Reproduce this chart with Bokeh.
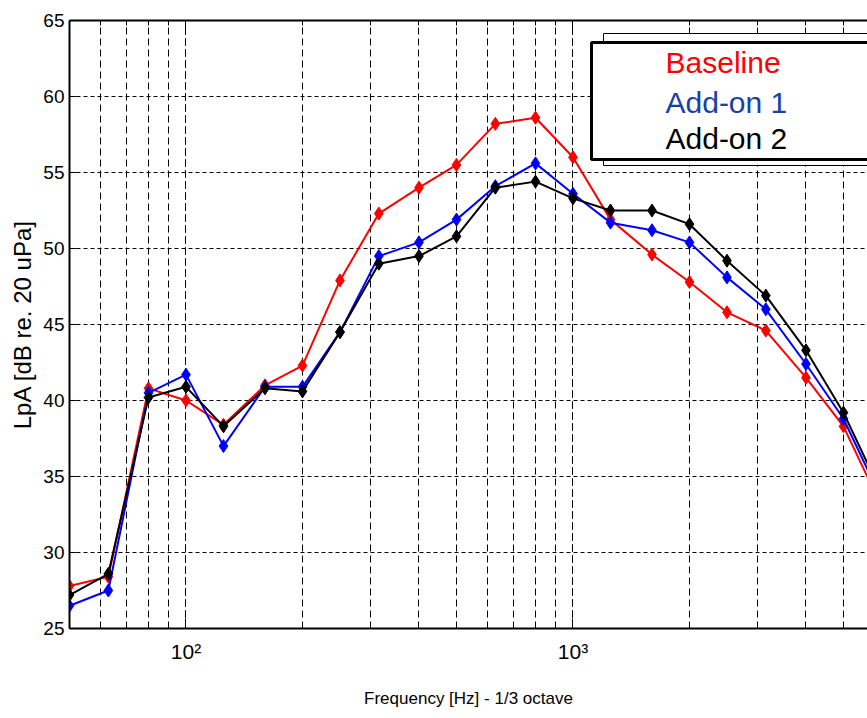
from bokeh.plotting import figure
from bokeh.models import LogAxis, BoxAnnotation, Label, FixedTicker, Range1d, LogTicker
from bokeh.embed import file_html
from bokeh.resources import INLINE

# 1/3-octave band centre frequencies [Hz]
freqs = [50, 63, 80, 100, 125, 160, 200, 250, 315, 400, 500, 630, 800,
         1000, 1250, 1600, 2000, 2500, 3150, 4000, 5000, 6300]

# LpA [dB re. 20 uPa]
baseline = [27.8, 28.4, 40.8, 40.0, 38.4, 41.0, 42.3, 47.9, 52.3, 54.0, 55.5,
            58.2, 58.6, 56.0, 51.9, 49.6, 47.8, 45.8, 44.6, 41.5, 38.3, 32.9]
addon1 = [26.5, 27.5, 40.5, 41.7, 37.0, 40.9, 40.9, 44.5, 49.5, 50.4, 51.9,
          54.1, 55.6, 53.6, 51.7, 51.2, 50.4, 48.1, 46.0, 42.4, 38.8, 33.4]
addon2 = [27.2, 28.6, 40.2, 40.9, 38.3, 40.8, 40.6, 44.5, 49.0, 49.5, 50.8,
          54.0, 54.4, 53.3, 52.5, 52.5, 51.6, 49.2, 46.9, 43.3, 39.2, 33.8]

series_names = ["Baseline", "Add-on 1", "Add-on 2"]
series_values = [baseline, addon1, addon2]
line_colors = ["#FF0000", "#0000FF", "#000000"]
text_colors = ["#FF0000", "#1840A8", "#000000"]

y_ticks = [25, 30, 35, 40, 45, 50, 55, 60, 65]
x_tick_labels = {100: "10\u00b2", 1000: "10\u00b3"}

FONT = "Liberation Sans"

p = figure(width=867, height=718, x_axis_type="log",
           x_range=Range1d(50, 5768), y_range=Range1d(25, 65),
           output_backend="svg", toolbar_location=None,
           min_border_left=69, min_border_right=0,
           min_border_top=20, min_border_bottom=90)
p.outline_line_color = None
p.background_fill_color = "white"

# grids
p.xgrid.grid_line_color = "black"
p.xgrid.grid_line_dash = "7 4"
p.xgrid.grid_line_width = 1
p.xgrid.minor_grid_line_color = "black"
p.xgrid.minor_grid_line_dash = "7 4"
p.xgrid.minor_grid_line_width = 1
p.ygrid.grid_line_color = "black"
p.ygrid.grid_line_dash = "4 3"
p.ygrid.grid_line_width = 1

# x axis (bottom)
xa = p.xaxis[0]
xa.ticker = LogTicker(num_minor_ticks=10)
xa.major_label_overrides = x_tick_labels
xa.major_label_text_font = FONT
xa.major_label_text_font_size = "21px"
xa.major_label_text_color = "black"
xa.major_label_standoff = 11
xa.major_tick_in = 10
xa.major_tick_out = 0
xa.minor_tick_in = 5
xa.minor_tick_out = 0
xa.axis_line_width = 2
xa.axis_label = "Frequency [Hz] - 1/3 octave"
xa.axis_label_text_font = FONT
xa.axis_label_text_font_size = "17px"
xa.axis_label_text_font_style = "normal"
xa.axis_label_text_color = "black"
xa.axis_label_standoff = 23

# y axis (left)
ya = p.yaxis[0]
ya.ticker = FixedTicker(ticks=y_ticks)
ya.major_label_text_font = FONT
ya.major_label_text_font_size = "19px"
ya.major_label_text_color = "black"
ya.major_label_standoff = 5
ya.major_tick_in = 7
ya.major_tick_out = 0
ya.minor_tick_line_color = None
ya.axis_line_width = 2
ya.axis_label = "LpA [dB re. 20 uPa]"
ya.axis_label_text_font = FONT
ya.axis_label_text_font_size = "24px"
ya.axis_label_text_font_style = "normal"
ya.axis_label_text_color = "black"
ya.axis_label_standoff = 4

# top border with inward ticks
top = LogAxis(ticker=LogTicker(num_minor_ticks=10),
              major_label_text_font_size="1px", major_label_text_color=None,
              major_label_standoff=0,
              major_tick_in=10, major_tick_out=0,
              minor_tick_in=5, minor_tick_out=0, axis_line_width=2)
p.add_layout(top, "above")

# data series
for vals, col in zip(series_values, line_colors):
    p.line(freqs, vals, line_color=col, line_width=2)
    p.scatter(freqs, vals, marker="diamond", size=13,
              fill_color=col, line_color=col)

# legend box (drawn as annotations, screen units relative to frame)
p.add_layout(BoxAnnotation(left=534, right=900, top=595, bottom=463,
                           left_units="screen", right_units="screen",
                           top_units="screen", bottom_units="screen",
                           fill_color="white", fill_alpha=1.0,
                           line_color="black", line_width=1, line_alpha=1.0))
p.add_layout(BoxAnnotation(left=522, right=900, top=586, bottom=469,
                           left_units="screen", right_units="screen",
                           top_units="screen", bottom_units="screen",
                           fill_color="white", fill_alpha=1.0,
                           line_color="black", line_width=3, line_alpha=1.0))
legend_baselines = [566, 526, 490]
for name, tc, yb in zip(series_names, text_colors, legend_baselines):
    p.add_layout(Label(x=596, y=yb, x_units="screen", y_units="screen",
                       text=name, text_color=tc, text_font=FONT,
                       text_font_size="30px", text_baseline="alphabetic"))

open("out.html", "w").write(file_html(p, INLINE))
